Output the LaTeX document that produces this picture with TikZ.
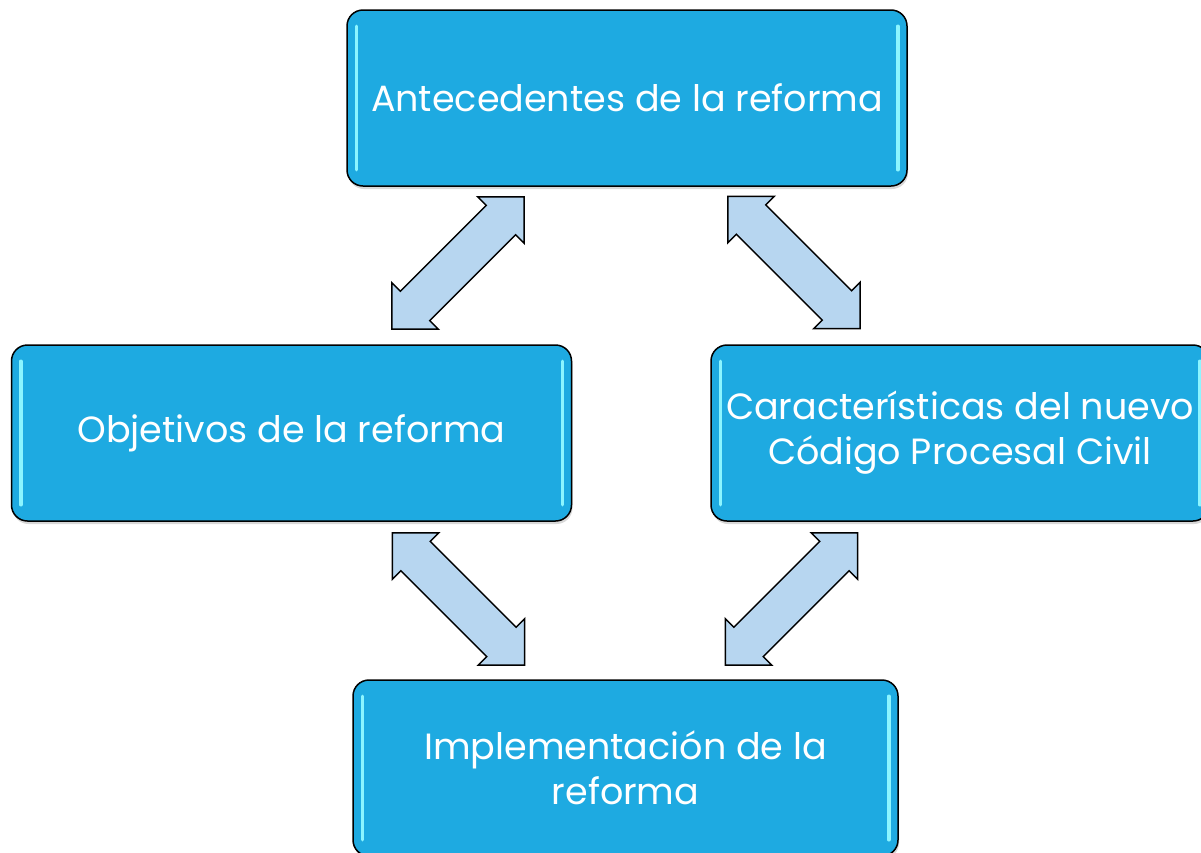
\documentclass[tikz,border=0pt]{standalone}
\usepackage{fontspec}
\setmainfont{Poppins}
\usetikzlibrary{shapes.arrows,shadows}
\definecolor{boxblue}{HTML}{1EAAE1}
\definecolor{arrowblue}{HTML}{B7D6F0}
\definecolor{glow}{HTML}{8CF5FF}
\begin{document}
\begin{tikzpicture}[x=1pt,y=-1pt,
 box/.style={draw=black, line width=1.5pt, fill=boxblue, rounded corners=16pt,
   minimum width=560pt, minimum height=176pt, text=white, align=center,
   font=\fontsize{36.5}{45}\selectfont, inner sep=0pt,
   drop shadow={shadow xshift=1pt, shadow yshift=-3pt, opacity=0.3}},
 link/.style={double arrow, draw=black, line width=1.5pt, fill=arrowblue,
   minimum height=187pt, minimum width=64pt, double arrow head extend=12pt,
   inner xsep=0pt, inner ysep=20pt},
 glowline/.style={glow, line width=3.5pt, line cap=round}]
\clip (0,0) rectangle (1201,852);
\fill[white] (0,0) rectangle (1201,852);
\node[box] (ante) at (627,98) {Antecedentes de la reforma};
\node[box] (obj) at (291.5,433) {Objetivos de la reforma};
\node[box, minimum width=498pt] (car) at (960,433) {Características del nuevo\\Código Procesal Civil};
\node[box, minimum width=545pt] (impl) at (625.5,768) {Implementación de la\\reforma};
\foreach \n in {ante,obj,car,impl}{
  \draw[glowline] ([xshift=10pt,yshift=-17pt]\n.north west) -- ([xshift=10pt,yshift=17pt]\n.south west);
  \draw[glowline] ([xshift=-10pt,yshift=-17pt]\n.north east) -- ([xshift=-10pt,yshift=17pt]\n.south east);
}
\node[link, rotate=45] (a1) at (458,263) {};
\node[link, rotate=-45] (a2) at (794,262.5) {};
\node[link, rotate=-45] (a3) at (458.5,599) {};
\node[link, rotate=45] (a4) at (791.5,599) {};
\end{tikzpicture}
\end{document}
